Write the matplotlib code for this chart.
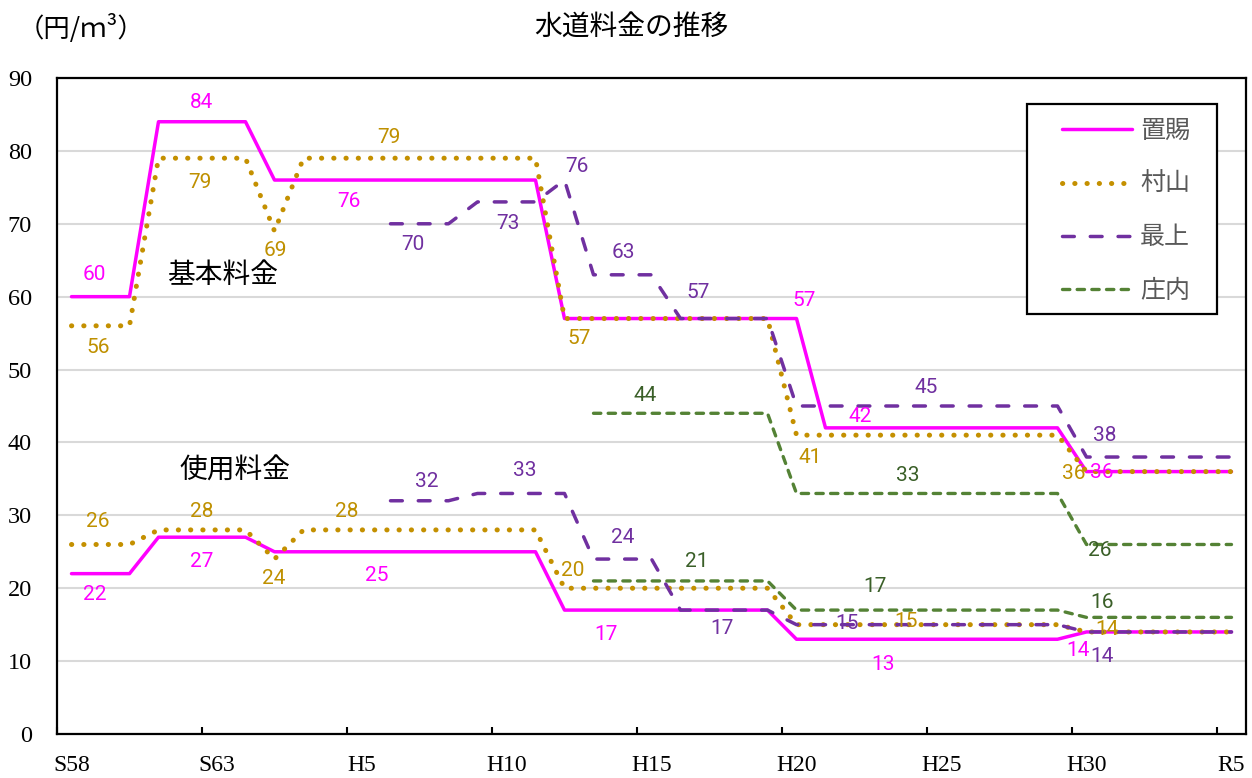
import numpy as np
import matplotlib.pyplot as plt
from matplotlib.patches import Rectangle

nan = np.nan

# 1983 (S58) .. 2023 (R5), one value per year
years = list(range(1983, 2024))
tick_labels = ["S58", "S63", "H5", "H10", "H15", "H20", "H25", "H30", "R5"]

areas = ["置賜", "村山", "最上", "庄内"]

# 基本料金 (円/m3)
okitama_base = [60, 60, 60, 84, 84, 84, 84, 76, 76, 76, 76, 76, 76, 76, 76, 76, 76,
                57, 57, 57, 57, 57, 57, 57, 57, 57, 42, 42, 42, 42, 42, 42, 42, 42, 42,
                36, 36, 36, 36, 36, 36]
murayama_base = [56, 56, 56, 79, 79, 79, 79, 69, 79, 79, 79, 79, 79, 79, 79, 79, 79,
                 57, 57, 57, 57, 57, 57, 57, 57, 41, 41, 41, 41, 41, 41, 41, 41, 41, 41,
                 36, 36, 36, 36, 36, 36]
mogami_base = [nan, nan, nan, nan, nan, nan, nan, nan, nan, nan, nan, 70, 70, 70, 73, 73, 73,
               76, 63, 63, 63, 57, 57, 57, 57, 45, 45, 45, 45, 45, 45, 45, 45, 45, 45,
               38, 38, 38, 38, 38, 38]
shonai_base = [nan, nan, nan, nan, nan, nan, nan, nan, nan, nan, nan, nan, nan, nan, nan, nan, nan,
               nan, 44, 44, 44, 44, 44, 44, 44, 33, 33, 33, 33, 33, 33, 33, 33, 33, 33,
               26, 26, 26, 26, 26, 26]

# 使用料金 (円/m3)
okitama_use = [22, 22, 22, 27, 27, 27, 27, 25, 25, 25, 25, 25, 25, 25, 25, 25, 25,
               17, 17, 17, 17, 17, 17, 17, 17, 13, 13, 13, 13, 13, 13, 13, 13, 13, 13,
               14, 14, 14, 14, 14, 14]
murayama_use = [26, 26, 26, 28, 28, 28, 28, 24, 28, 28, 28, 28, 28, 28, 28, 28, 28,
                20, 20, 20, 20, 20, 20, 20, 20, 15, 15, 15, 15, 15, 15, 15, 15, 15, 15,
                14, 14, 14, 14, 14, 14]
mogami_use = [nan, nan, nan, nan, nan, nan, nan, nan, nan, nan, nan, 32, 32, 32, 33, 33, 33,
              33, 24, 24, 24, 17, 17, 17, 17, 15, 15, 15, 15, 15, 15, 15, 15, 15, 15,
              14, 14, 14, 14, 14, 14]
shonai_use = [nan, nan, nan, nan, nan, nan, nan, nan, nan, nan, nan, nan, nan, nan, nan, nan, nan,
              nan, 21, 21, 21, 21, 21, 21, 21, 17, 17, 17, 17, 17, 17, 17, 17, 17, 17,
              16, 16, 16, 16, 16, 16]

series = {
    "置賜": (okitama_base, okitama_use),
    "村山": (murayama_base, murayama_use),
    "最上": (mogami_base, mogami_use),
    "庄内": (shonai_base, shonai_use),
}

# line look per area
styles = {
    "置賜": dict(color="#FF00FF", lw=2.5, ls="-", solid_capstyle="round"),
    "村山": dict(color="#C49000", lw=3.6, ls=(0, (0.05, 2.4)), dash_capstyle="round"),
    "最上": dict(color="#7030A0", lw=2.5, ls=(0, (3.4, 4.6)), dash_capstyle="round"),
    "庄内": dict(color="#548235", lw=2.4, ls=(0, (2.2, 2.2)), dash_capstyle="round"),
}
label_colors = {"置賜": "#FF00FF", "村山": "#BF9000", "最上": "#7030A0", "庄内": "#3A5F28"}

# value labels: (area, 0=基本 / 1=使用, year index, text x, text y)
value_labels = [
    ("置賜", 0, 1, 0.77, 63.0), ("村山", 0, 1, 0.91, 53.0),
    ("置賜", 0, 4, 4.47, 86.6), ("村山", 0, 4, 4.43, 75.6),
    ("村山", 0, 7, 7.02, 66.3), ("置賜", 0, 10, 9.57, 73.0),
    ("村山", 0, 11, 10.95, 81.9), ("最上", 0, 12, 11.78, 67.2),
    ("最上", 0, 15, 15.05, 70.0), ("最上", 0, 17, 17.43, 77.9),
    ("村山", 0, 17, 17.50, 54.3), ("最上", 0, 19, 19.02, 66.0),
    ("最上", 0, 22, 21.60, 60.6), ("置賜", 0, 25, 25.26, 59.5),
    ("村山", 0, 25, 25.47, 37.9), ("置賜", 0, 27, 27.19, 43.5),
    ("最上", 0, 29, 29.47, 47.6), ("庄内", 0, 20, 19.78, 46.5),
    ("庄内", 0, 29, 28.85, 35.5), ("村山", 0, 35, 34.57, 35.7),
    ("置賜", 0, 35, 35.54, 35.9), ("最上", 0, 35, 35.64, 40.9),
    ("庄内", 0, 35, 35.47, 25.2),
    ("村山", 1, 1, 0.91, 29.1), ("置賜", 1, 1, 0.81, 19.2),
    ("村山", 1, 4, 4.50, 30.5), ("置賜", 1, 4, 4.50, 23.7),
    ("村山", 1, 7, 6.98, 21.3), ("村山", 1, 10, 9.50, 30.5),
    ("置賜", 1, 10, 10.53, 21.8), ("最上", 1, 12, 12.26, 34.7),
    ("最上", 1, 15, 15.64, 36.1), ("村山", 1, 17, 17.29, 22.4),
    ("置賜", 1, 18, 18.43, 13.6), ("最上", 1, 19, 19.02, 26.9),
    ("庄内", 1, 21, 21.57, 23.7), ("最上", 1, 22, 22.43, 14.5),
    ("最上", 1, 26, 26.74, 15.1), ("庄内", 1, 27, 27.71, 20.2),
    ("置賜", 1, 28, 27.98, 9.5), ("村山", 1, 28, 28.78, 15.5),
    ("置賜", 1, 35, 34.71, 11.4), ("最上", 1, 35, 35.54, 10.6),
    ("村山", 1, 35, 35.70, 14.3), ("庄内", 1, 35, 35.54, 18.0),
]

JP = ["Noto Sans CJK JP", "DejaVu Sans"]
NUM = ["Roboto", "DejaVu Sans"]
SERIF = ["Liberation Serif", "DejaVu Serif"]

W, H = 1252, 778
fig = plt.figure(figsize=(W / 100, H / 100), dpi=100)
ax = fig.add_axes([57 / W, 1 - 734 / H, (1246 - 57) / W, (734 - 78) / H])

x = np.arange(len(years))
for name in areas:
    base, use = series[name]
    st = styles[name]
    ax.plot(x, base, label=name, zorder=3, **st)
    ax.plot(x, use, zorder=3, **st)

for name, kind, i, tx, ty in value_labels:
    v = series[name][kind][i]
    ax.text(tx, ty, f"{v:.0f}", ha="center", va="center", fontsize=15,
            family=NUM, color=label_colors[name], zorder=5)

ax.text(5.22, 63.0, "基本料金", ha="center", va="center", fontsize=20, family=JP, zorder=5)
ax.text(5.64, 36.2, "使用料金", ha="center", va="center", fontsize=20, family=JP, zorder=5)

ax.set_xlim(-0.5, len(years) - 0.5)
ax.set_ylim(0, 90)
ax.set_yticks(np.arange(0, 91, 10))
ax.grid(axis="y", color="#D9D9D9", lw=1.5, zorder=0)
ax.set_axisbelow(True)

# tick marks between years, labels centred on the year
ax.set_xticks(np.arange(-0.5, len(years), 5))
ax.set_xticklabels([])
ax.set_xticks(np.arange(0, len(years), 5), minor=True)
ax.set_xticklabels(tick_labels, minor=True, family=SERIF, fontsize=17)
ax.tick_params(axis="x", which="major", direction="in", length=5, width=1.5)
ax.tick_params(axis="x", which="minor", length=0, pad=15)
ax.tick_params(axis="y", length=0, pad=18, labelsize=17.5)
for lbl in ax.get_yticklabels():
    lbl.set_family(SERIF)
for sp in ax.spines.values():
    sp.set_linewidth(1.6)
    sp.set_color("black")

fig.text(631 / W, 1 - 28 / H, "水道料金の推移", ha="center", va="center",
         fontsize=20, family=JP)
fig.text(18 / W, 1 - 28 / H, "（円/ｍ³）", ha="left", va="center",
         fontsize=19, family=JP)

# legend box
box = Rectangle((1027 / W, 1 - 314 / H), 190 / W, 210 / H, transform=fig.transFigure,
                facecolor="white", edgecolor="black", lw=1.6, zorder=6)
fig.add_artist(box)
leg = fig.legend(loc="upper left", bbox_to_anchor=(1062 / W, 1 - 118 / H),
                 borderaxespad=0, borderpad=0, frameon=False, handlelength=2.8,
                 handletextpad=0.32, labelspacing=1.09,
                 prop={"family": JP, "size": 18})
leg.set_zorder(7)
for t in leg.get_texts():
    t.set_color("#595959")

fig.savefig("out.png", dpi=100)
